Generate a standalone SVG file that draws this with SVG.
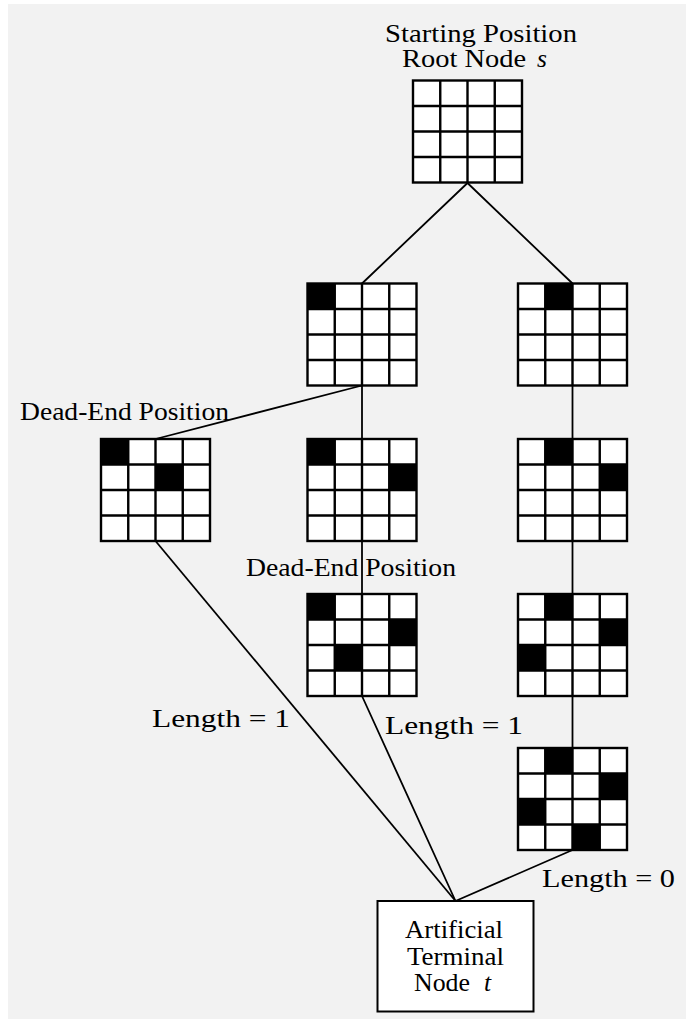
<svg xmlns="http://www.w3.org/2000/svg" width="686" height="1019" viewBox="0 0 686 1019">
<style>
text{font-family:'Liberation Serif','DejaVu Serif',serif;font-size:25.5px;fill:#000}
.i{font-style:italic}
.c{stroke:#000;stroke-width:1.8;fill:none;stroke-linecap:round}
</style>
<defs>
<rect id="bg" x="0" y="0" width="109" height="102" fill="#fff"/>
<g id="grid" stroke="#000" stroke-width="2.4" fill="none">
<rect x="0" y="0" width="109" height="102"/>
<path d="M27.25 0V102M54.5 0V102M81.75 0V102M0 25.5H109M0 51H109M0 76.5H109"/>
</g>
<rect id="cell" x="0" y="0" width="27.25" height="25.5" fill="#000"/>
</defs>
<rect x="0" y="0" width="686" height="1019" fill="#fff"/>
<rect x="8" y="4" width="678" height="1015" fill="#f2f2f2"/>

<g id="connectors" class="c">
<line x1="467.5" y1="183" x2="362" y2="283.5"/>
<line x1="467.5" y1="183" x2="572.5" y2="283.5"/>
<line x1="362" y1="385.5" x2="155.5" y2="439"/>
<line x1="362" y1="385.5" x2="362" y2="439"/>
<line x1="572.5" y1="385.5" x2="572.5" y2="439"/>
<line x1="362" y1="541" x2="362" y2="594"/>
<line x1="572.5" y1="541" x2="572.5" y2="594"/>
<line x1="572.5" y1="696" x2="572.5" y2="748"/>
<line x1="155.5" y1="541" x2="455.5" y2="901"/>
<line x1="362" y1="696" x2="455.5" y2="901"/>
<line x1="572.5" y1="850" x2="455.5" y2="901"/>
</g>

<g id="root">
<text x="385" y="42" textLength="192" lengthAdjust="spacingAndGlyphs">Starting Position</text>
<text x="402" y="66.5" textLength="124" lengthAdjust="spacingAndGlyphs">Root Node</text>
<text class="i" x="537" y="66.5">s</text>
<g transform="translate(413,80.5)"><use href="#bg"/><use href="#grid"/></g>
</g>

<g id="b1" transform="translate(307.5,283.5)">
<use href="#bg"/><use href="#cell" x="0" y="0"/><use href="#grid"/>
</g>
<g id="b2" transform="translate(518,283.5)">
<use href="#bg"/><use href="#cell" x="27.25" y="0"/><use href="#grid"/>
</g>
<g id="b3">
<text x="20" y="419.5" textLength="209" lengthAdjust="spacingAndGlyphs">Dead-End Position</text>
<g transform="translate(101,439)">
<use href="#bg"/><use href="#cell" x="0" y="0"/><use href="#cell" x="54.5" y="25.5"/><use href="#grid"/>
</g>
</g>
<g id="b4" transform="translate(307.5,439)">
<use href="#bg"/><use href="#cell" x="0" y="0"/><use href="#cell" x="81.75" y="25.5"/><use href="#grid"/>
</g>
<g id="b5" transform="translate(518,439)">
<use href="#bg"/><use href="#cell" x="27.25" y="0"/><use href="#cell" x="81.75" y="25.5"/><use href="#grid"/>
</g>
<g id="b6">
<text x="246" y="576" textLength="210" lengthAdjust="spacingAndGlyphs">Dead-End Position</text>
<g transform="translate(307.5,594)">
<use href="#bg"/><use href="#cell" x="0" y="0"/><use href="#cell" x="81.75" y="25.5"/><use href="#cell" x="27.25" y="51"/><use href="#grid"/>
</g>
</g>
<g id="b7" transform="translate(518,594)">
<use href="#bg"/><use href="#cell" x="27.25" y="0"/><use href="#cell" x="81.75" y="25.5"/><use href="#cell" x="0" y="51"/><use href="#grid"/>
</g>
<g id="b8" transform="translate(518,748)">
<use href="#bg"/><use href="#cell" x="27.25" y="0"/><use href="#cell" x="81.75" y="25.5"/><use href="#cell" x="0" y="51"/><use href="#cell" x="54.5" y="76.5"/><use href="#grid"/>
</g>

<g id="labels">
<text x="152" y="727" textLength="138" lengthAdjust="spacingAndGlyphs">Length = 1</text>
<text x="385" y="734" textLength="138" lengthAdjust="spacingAndGlyphs">Length = 1</text>
<text x="542" y="887" textLength="133" lengthAdjust="spacingAndGlyphs">Length = 0</text>
</g>

<g id="terminal">
<rect x="377.5" y="901" width="156" height="110.5" fill="#fff" stroke="#000" stroke-width="2"/>
<text x="405" y="938" textLength="98" lengthAdjust="spacingAndGlyphs">Artificial</text>
<text x="407" y="965" textLength="97" lengthAdjust="spacingAndGlyphs">Terminal</text>
<text x="414" y="991" textLength="56" lengthAdjust="spacingAndGlyphs">Node</text>
<text class="i" x="484" y="991">t</text>
</g>
</svg>
